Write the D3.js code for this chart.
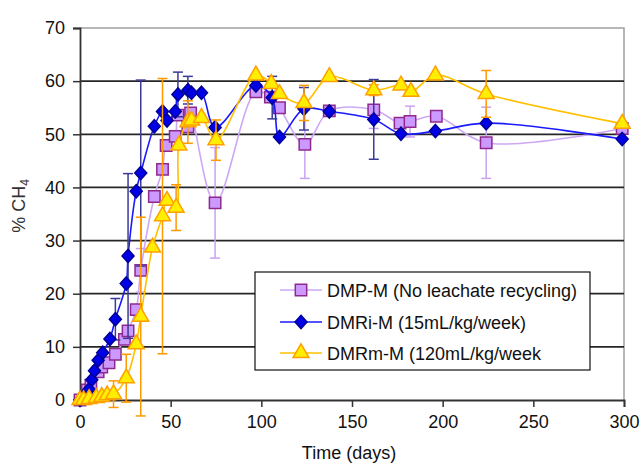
<!DOCTYPE html>
<html>
<head>
<meta charset="utf-8">
<script src="https://cdn.jsdelivr.net/npm/d3@7"></script>
<style>
  html, body { margin: 0; padding: 0; background: #fff; }
  svg { display: block; font-family: "Liberation Sans", Arial, sans-serif; }
</style>
</head>
<body>
<svg id="chart" width="641" height="467"></svg>
<script>
// Methane content (% CH4) over time for three reactors
const xTicks = [0, 50, 100, 150, 200, 250, 300];
const yTicks = [0, 10, 20, 30, 40, 50, 60, 70];

// DMP-M (no leachate recycling)
const dmpDays = [0, 4, 6, 10, 12, 16, 19.5, 24.5, 26.5, 31, 33.5, 41, 45.5, 47.5, 52.5, 54, 59.5, 61, 74.5, 97, 105, 110, 124, 137.5, 162, 176.5, 182, 196.5, 224, 299];
const dmpValues = [0, 1.9, 2.8, 5.3, 6.2, 7.0, 8.6, 11.4, 13.0, 17.0, 24.4, 38.3, 43.4, 47.9, 49.6, 53.6, 51.4, 54.0, 37.1, 58.0, 57.0, 55.0, 48.1, 54.4, 54.6, 52.1, 52.4, 53.4, 48.4, 51.1];
const dmpErrors = [0, 0, 0, 0, 0, 0, 0, 0, 0, 0, 4.1, 0, 0, 0, 0, 0, 0, 0, 10.4, 0, 0, 0, 6.4, 0, 3.5, 0, 2.9, 0, 6.7, 0];

// DMRi-M (15 mL/kg/week)
const dmriDays = [0, 3, 5, 6.5, 8, 10, 12.5, 16.5, 19.5, 25.5, 26.5, 31, 33.5, 41, 45.5, 48, 52.5, 54, 59.5, 61.5, 67, 74.5, 97, 106, 110, 123.5, 137.5, 162, 177, 196, 224, 299];
const dmriValues = [0, 1.1, 2.0, 3.8, 5.5, 7.5, 8.9, 11.5, 15.2, 21.9, 27.1, 39.3, 42.7, 51.5, 54.3, 52.6, 54.3, 57.5, 58.3, 57.8, 57.8, 51.3, 59.2, 56.9, 49.5, 54.8, 54.3, 52.8, 50.1, 50.6, 52.1, 49.1];
const dmriErrors = [0, 0, 0, 0, 0, 0, 0, 0, 3.9, 0, 15.5, 0, 17.5, 0, 0, 0, 0, 4.2, 2.6, 0, 0, 0, 0, 4.0, 0, 4.0, 0, 7.5, 0, 0, 0, 0];

// DMRm-M (120 mL/kg/week)
const dmrmDays = [0, 2, 5, 9, 12, 15, 18.5, 25.5, 31, 33.5, 40, 45.5, 48, 53, 54.5, 59.5, 61.5, 67, 75, 97, 105.5, 110, 123.5, 137.5, 162, 177, 182.5, 196, 224, 299];
const dmrmValues = [0, 0, 0.2, 0.4, 0.6, 0.9, 1.1, 4.1, 10.5, 15.7, 28.7, 34.6, 37.5, 36.2, 47.9, 52.3, 52.6, 53.1, 48.9, 61.1, 59.5, 57.6, 55.9, 60.8, 58.3, 59.2, 58.0, 61.1, 57.6, 52.0];
const dmrmErrors = [0, 0, 0, 0, 0, 0, 2.5, 4.5, 0, 18.7, 0, 25.9, 0, 4.3, 0, 4.0, 0, 0, 3.8, 0, 0, 0, 3.3, 0, 1.0, 0, 0, 0, 4.4, 0];

const seriesNames = ["DMP-M (No leachate recycling)", "DMRi-M (15mL/kg/week)", "DMRm-M (120mL/kg/week"];

const svg = d3.select("#chart");
const plotLeft = 80, plotRight = 624, plotTop = 28, plotBottom = 400;
const x = d3.scaleLinear().domain([0, 300]).range([plotLeft, plotRight]);
const y = d3.scaleLinear().domain([0, 70]).range([plotBottom, plotTop]);

// plot frame (top and right edges)
svg.append("path")
  .attr("d", `M${plotLeft},${plotTop}H${plotRight}V${plotBottom}`)
  .attr("fill", "none").attr("stroke", "#a0a0a0").attr("stroke-width", 1.5);

// horizontal gridlines
svg.append("g").selectAll("line")
  .data(yTicks.filter(t => t > 0 && t < 70))
  .join("line")
  .attr("x1", plotLeft).attr("x2", plotRight)
  .attr("y1", d => y(d)).attr("y2", d => y(d))
  .attr("stroke", "#262626").attr("stroke-width", 1.8);

// axes
const xAxis = svg.append("g").attr("transform", `translate(0,${plotBottom})`)
  .call(d3.axisBottom(x).tickValues(xTicks).tickSize(7).tickPadding(8).tickFormat(d3.format("d")));
const yAxis = svg.append("g").attr("transform", `translate(${plotLeft},0)`)
  .call(d3.axisLeft(y).tickValues(yTicks).tickSize(7).tickPadding(8).tickFormat(d3.format("d")));
[xAxis, yAxis].forEach(g => {
  g.select(".domain").attr("stroke", "#333").attr("stroke-width", 1.8);
  g.selectAll(".tick line").attr("stroke", "#333").attr("stroke-width", 1.5);
  g.selectAll(".tick text").attr("font-size", 18).attr("fill", "#111")
    .attr("font-family", "'Liberation Sans', Arial, sans-serif");
});

// axis titles
svg.append("text").attr("x", 349).attr("y", 459).attr("text-anchor", "middle")
  .attr("font-size", 18).attr("fill", "#111").text("Time (days)");
const yTitle = svg.append("text")
  .attr("transform", "translate(25,206) rotate(-90)")
  .attr("text-anchor", "middle").attr("font-size", 18).attr("fill", "#333");
yTitle.append("tspan").text("% CH");
yTitle.append("tspan").attr("font-size", 12).attr("dy", 4).text("4");

const series = [
  { name: seriesNames[0], days: dmpDays, values: dmpValues, errors: dmpErrors,
    line: "#cda8f5", err: "#c9a3f0", fill: "#cc99ff", stroke: "#8e2a8e", shape: "square" },
  { name: seriesNames[1], days: dmriDays, values: dmriValues, errors: dmriErrors,
    line: "#1a1aff", err: "#3a3a99", fill: "#0000e6", stroke: "#000099", shape: "diamond" },
  { name: seriesNames[2], days: dmrmDays, values: dmrmValues, errors: dmrmErrors,
    line: "#ffc000", err: "#ff9900", fill: "#ffee00", stroke: "#ffa000", shape: "triangle" }
];

// near-square rhombus marker
const rhombus = {
  draw(ctx, size) {
    const w = Math.sqrt(size / 2) * 0.95, h = Math.sqrt(size / 2) * 1.05;
    ctx.moveTo(0, -h); ctx.lineTo(w, 0); ctx.lineTo(0, h); ctx.lineTo(-w, 0); ctx.closePath();
  }
};

const symbols = {
  square: d3.symbol().type(d3.symbolSquare).size(130),
  diamond: d3.symbol().type(rhombus).size(80),
  triangle: d3.symbol().type(d3.symbolTriangle).size(110)
};

const line = d3.line().curve(d3.curveCatmullRom.alpha(0.5));

series.forEach(s => {
  const pts = s.days.map((d, i) => ({ d, v: s.values[i], e: s.errors[i] }));
  const g = svg.append("g");
  g.append("path")
    .attr("d", line(pts.map(p => [x(p.d), y(p.v)])))
    .attr("fill", "none").attr("stroke", s.line).attr("stroke-width", 1.6);

  // error bars
  const eb = g.append("g").selectAll("g").data(pts.filter(p => p.e > 0)).join("g")
    .attr("stroke", s.err).attr("stroke-width", 1.5);
  eb.append("line").attr("x1", p => x(p.d)).attr("x2", p => x(p.d))
    .attr("y1", p => y(p.v - p.e)).attr("y2", p => y(p.v + p.e));
  eb.append("line").attr("x1", p => x(p.d) - 5).attr("x2", p => x(p.d) + 5)
    .attr("y1", p => y(p.v + p.e)).attr("y2", p => y(p.v + p.e));
  eb.append("line").attr("x1", p => x(p.d) - 5).attr("x2", p => x(p.d) + 5)
    .attr("y1", p => y(p.v - p.e)).attr("y2", p => y(p.v - p.e));

  g.append("g").selectAll("path").data(pts).join("path")
    .attr("transform", p => `translate(${x(p.d)},${y(p.v)})`)
    .attr("d", symbols[s.shape]())
    .attr("fill", s.fill).attr("stroke", s.stroke).attr("stroke-width", 1.5);
});

// legend
const lg = svg.append("g");
lg.append("rect").attr("x", 255).attr("y", 272).attr("width", 335).attr("height", 98)
  .attr("fill", "#fff").attr("stroke", "#111").attr("stroke-width", 1.2);
const rows = [290, 322, 353];
series.forEach((s, i) => {
  const r = rows[i];
  lg.append("line").attr("x1", 280).attr("x2", 322).attr("y1", r).attr("y2", r)
    .attr("stroke", s.line).attr("stroke-width", 1.6);
  lg.append("path")
    .attr("transform", `translate(301,${r})`)
    .attr("d", symbols[s.shape]())
    .attr("fill", s.fill).attr("stroke", s.stroke).attr("stroke-width", 1.5);
  lg.append("text").attr("x", 327).attr("y", r + 6.5).attr("font-size", 18)
    .attr("fill", "#111").text(s.name);
});
</script>
</body>
</html>
